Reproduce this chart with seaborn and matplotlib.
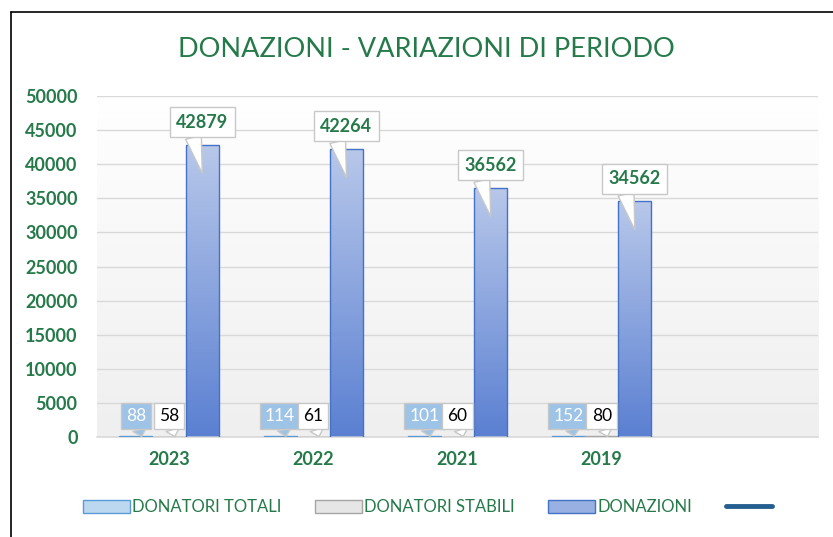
import seaborn as sns
import matplotlib.pyplot as plt
import matplotlib.patches as mpatches
from matplotlib.lines import Line2D
from matplotlib.colors import LinearSegmentedColormap
import pandas as pd
import numpy as np

GREEN = '#267a4a'
GRID = '#d9d9d9'

anni = ['2023', '2022', '2021', '2019']
serie = ['DONATORI TOTALI', 'DONATORI STABILI', 'DONAZIONI']
totali = [88, 114, 101, 152]
stabili = [58, 61, 60, 80]
donazioni = [42879, 42264, 36562, 34562]
y_ticks = [0, 5000, 10000, 15000, 20000, 25000, 30000, 35000, 40000, 45000, 50000]

sns.set_theme(style='white')
plt.rcParams['font.family'] = ['Lato', 'DejaVu Sans']

rows = []
for nome, valori in zip(serie, [totali, stabili, donazioni]):
    for a, v in zip(anni, valori):
        rows.append({'anno': a, 'serie': nome, 'valore': v})
df = pd.DataFrame(rows)

fig = plt.figure(figsize=(8.33, 5.37), dpi=100, facecolor='white')
ax = fig.add_axes([0.1164, 0.1862, 0.8656, 0.635])

# colori: (alto, basso, bordo)
STILI = {
    'DONATORI TOTALI': ('#cfe2f5', '#9dc3e6', '#5b9bd5'),
    'DONATORI STABILI': ('#f4f4f4', '#d6d6d6', '#a5a5a5'),
    'DONAZIONI': ('#b8c8ea', '#5b80d2', '#4472c4'),
}
LEG_FC = {'DONATORI TOTALI': '#bcd8f0', 'DONATORI STABILI': '#e6e6e6', 'DONAZIONI': '#98b0e2'}

sns.barplot(data=df, x='anno', y='valore', hue='serie', order=anni,
            hue_order=serie, width=0.69, gap=0, ax=ax,
            palette=[STILI[s][1] for s in serie], legend=False, zorder=3)

# sfondo con sfumatura (bianco in alto, grigio chiaro in basso)
bg = np.linspace(0, 1, 256).reshape(-1, 1)
ax.imshow(bg, cmap=LinearSegmentedColormap.from_list('bg', ['#efefef', '#ffffff']),
          extent=[-0.5, 4.5, 0, 50000], aspect='auto', zorder=0, origin='lower')

# barre con sfumatura
for cont, nome in zip(ax.containers, serie):
    alto, basso, bordo = STILI[nome]
    cmap = LinearSegmentedColormap.from_list(nome, [basso, alto])
    for p in cont.patches:
        x0, y0 = p.get_x(), p.get_y()
        w, h = p.get_width(), p.get_height()
        p.set_facecolor('none')
        p.set_edgecolor(bordo)
        p.set_linewidth(1.0)
        im = ax.imshow(np.linspace(0, 1, 256).reshape(-1, 1), cmap=cmap,
                       extent=[x0, x0 + w, y0, y0 + h], aspect='auto',
                       origin='lower', zorder=2.5)
        im.set_clip_path(p)

ax.set_xlim(-0.5, 4.5)
ax.set_ylim(0, 50000)
ax.set_yticks(y_ticks)
ax.set_yticklabels([str(t) for t in y_ticks])
ax.yaxis.grid(True, color=GRID, lw=1, zorder=1)
ax.set_axisbelow(True)
for s in ['top', 'right', 'left']:
    ax.spines[s].set_visible(False)
ax.spines['bottom'].set_color(GRID)
ax.spines['bottom'].set_linewidth(1.2)

ax.set_xticks(range(4))
ax.set_xticklabels(anni)
ax.tick_params(axis='x', length=0, pad=10, labelsize=13, labelcolor=GREEN)
ax.tick_params(axis='y', length=0, pad=14, labelsize=13, labelcolor=GREEN)
for t in ax.get_xticklabels() + ax.get_yticklabels():
    t.set_fontweight('bold')
# separatori tra categorie
ax.set_xticks(np.arange(-0.5, 5.0, 1.0), minor=True)
ax.tick_params(axis='x', which='minor', length=7, color=GRID, width=1.2, direction='out')
ax.set_xlabel('')
ax.set_ylabel('')

# etichette a fumetto
y_small = 3100
for cont, nome in zip(ax.containers, serie):
    for p, v in zip(cont.patches, df[df['serie'] == nome]['valore']):
        xc = p.get_x() + p.get_width() / 2
        if nome == 'DONAZIONI':
            ax.annotate(str(v), xy=(xc, v - 4200), xytext=(xc, v + 3300),
                        ha='center', va='center', fontsize=13, color=GREEN,
                        fontweight='bold', zorder=6,
                        bbox=dict(boxstyle='square,pad=0.35', fc='white', ec='#c8c8c8', lw=1),
                        arrowprops=dict(arrowstyle='wedge,tail_width=0.9', fc='white',
                                        ec='#c8c8c8', lw=1, relpos=(0.3, 0),
                                        shrinkA=0, shrinkB=0))
        else:
            fc, tc = ('#9dc3e6', 'white') if nome == 'DONATORI TOTALI' else ('white', 'black')
            ax.annotate(str(v), xy=(xc + 0.04, v), xytext=(xc, y_small),
                        ha='center', va='center', fontsize=12.5, color=tc, zorder=6,
                        bbox=dict(boxstyle='square,pad=0.3', fc=fc, ec='#c8c8c8', lw=1),
                        arrowprops=dict(arrowstyle='wedge,tail_width=0.8', fc=fc,
                                        ec='#c8c8c8', lw=1, relpos=(0.6, 0),
                                        shrinkA=0, shrinkB=0))

fig.text(0.512, 0.907, 'DONAZIONI - VARIAZIONI DI PERIODO', ha='center', va='center',
         fontsize=19.5, color=GREEN)

# legenda
handles = [mpatches.Patch(fc=LEG_FC[s], ec=STILI[s][2], lw=1) for s in serie]
handles.append(Line2D([], [], color='#255e91', lw=3.5, solid_capstyle='round'))
leg = fig.legend(handles, serie + [''], loc='center', bbox_to_anchor=(0.515, 0.056),
                 ncol=4, frameon=False, fontsize=12, handlelength=2.8,
                 handleheight=0.8, handletextpad=0.15, columnspacing=2.0)
for t in leg.get_texts():
    t.set_color(GREEN)

# cornice
fig.add_artist(Line2D([11 / 833, 11 / 833], [0, 1 - 12 / 537], color='black', lw=1.2))
fig.add_artist(Line2D([11 / 833, 1], [1 - 12 / 537, 1 - 12 / 537], color='black', lw=1.2))

fig.savefig('out.png', dpi=100, facecolor='white')
